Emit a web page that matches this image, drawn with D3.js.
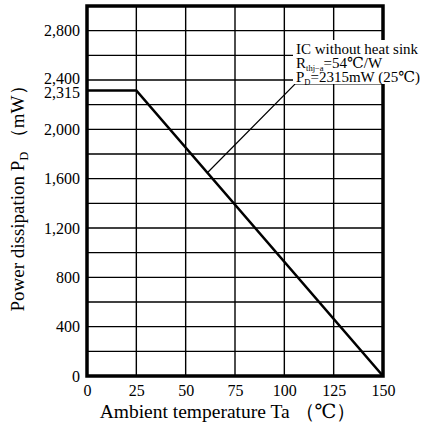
<!DOCTYPE html>
<html>
<head>
<meta charset="utf-8">
<script src="https://cdn.jsdelivr.net/npm/d3@7"></script>
<style>
  body { margin: 0; background: #fff; }
  text { font-family: "Liberation Serif", "DejaVu Serif", serif; fill: #000; }
</style>
</head>
<body>
<div id="chart"></div>
<script>
var svgWidth = 434;
var svgHeight = 430;

// derating curve
var temps = [0, 25, 150];
var power = [2315, 2315, 0];

var xTicks = [0, 25, 50, 75, 100, 125, 150];
var yTicks = [0, 400, 800, 1200, 1600, 2000, 2400, 2800];
var yExtraTick = 2315;
var yGrid = d3.range(200, 3000, 200);
var xGrid = [25, 50, 75, 100, 125];

var margin = { left: 87, top: 6, right: 51, bottom: 54 };
var width = svgWidth - margin.left - margin.right;
var height = svgHeight - margin.top - margin.bottom;

var svg = d3.select('#chart').append('svg')
    .attr('width', svgWidth)
    .attr('height', svgHeight);

var chartArea = svg.append('g')
    .attr('transform', `translate(${margin.left},${margin.top})`);

var xScale = d3.scaleLinear().domain([0, 150]).range([0, width]);
var yScale = d3.scaleLinear().domain([0, 3000]).range([height, 0]);

// grid
chartArea.selectAll('.hgrid').data(yGrid).enter().append('line')
    .attr('x1', 0).attr('x2', width)
    .attr('y1', d => yScale(d)).attr('y2', d => yScale(d))
    .attr('stroke', '#000').attr('stroke-width', 1.4);

chartArea.selectAll('.vgrid').data(xGrid).enter().append('line')
    .attr('x1', d => xScale(d)).attr('x2', d => xScale(d))
    .attr('y1', 0).attr('y2', height)
    .attr('stroke', '#000').attr('stroke-width', 1.4);

// frame
chartArea.append('rect')
    .attr('width', width).attr('height', height)
    .attr('fill', 'none').attr('stroke', '#000').attr('stroke-width', 3.5);

// axes (labels only)
var xAxis = chartArea.append('g')
    .attr('transform', `translate(0,${height})`)
    .call(d3.axisBottom(xScale).tickValues(xTicks).tickSize(0).tickPadding(9));

var yAxis = chartArea.append('g')
    .call(d3.axisLeft(yScale).tickValues(yTicks.concat([yExtraTick]))
        .tickSize(0).tickPadding(7).tickFormat(d3.format(',')));

[xAxis, yAxis].forEach(a => {
    a.select('.domain').remove();
    a.selectAll('text').attr('font-size', 16).attr('font-family', '"Liberation Serif", serif');
});
yAxis.selectAll('.tick text').filter(d => d === 2400).attr('dy', '0.2em');
yAxis.selectAll('.tick text').filter(d => d === 2315).attr('dy', '0.45em');

// curve
var line = d3.line().x((d, i) => xScale(temps[i])).y(d => yScale(d));
chartArea.append('path')
    .datum(power)
    .attr('d', line)
    .attr('fill', 'none')
    .attr('stroke', '#000')
    .attr('stroke-width', 2.6);

// annotation box covers the grid
svg.append('rect')
    .attr('x', 293).attr('y', 40)
    .attr('width', svgWidth - 293).attr('height', 44)
    .attr('fill', '#fff');

// leader line from the curve to the note
var leadT = 61;
var px = xScale(leadT), py = yScale(2315 * (150 - leadT) / 125);
var noteY = 84 - margin.top;
chartArea.append('polyline')
    .attr('points', [[px, py], [208, noteY], [xScale(150), noteY]].map(p => p.join(',')).join(' '))
    .attr('fill', 'none').attr('stroke', '#000').attr('stroke-width', 1.2);

var note = svg.append('text').attr('font-size', 15);
note.append('tspan').attr('x', 296).attr('y', 54).text('IC without heat sink');
note.append('tspan').attr('x', 296).attr('y', 68).text('R');
note.append('tspan').attr('font-size', 8.5).attr('dy', 2.5).text('thj\u2212a');
note.append('tspan').attr('dy', -2.5).text('=54\u2103/W');
note.append('tspan').attr('x', 296).attr('y', 82).text('P');
note.append('tspan').attr('font-size', 8.5).attr('dy', 2.5).text('D');
note.append('tspan').attr('dy', -2.5).text('=2315mW (25\u2103)');

// axis titles
svg.append('text')
    .attr('x', 228).attr('y', 418)
    .attr('text-anchor', 'middle')
    .attr('font-size', 19.5)
    .text('Ambient temperature  Ta \uff08\u2103\uff09');

var yt = svg.append('text')
    .attr('transform', 'translate(24,194) rotate(-90)')
    .attr('text-anchor', 'middle')
    .attr('font-size', 19);
yt.append('tspan').text('Power dissipation  P');
yt.append('tspan').attr('font-size', 12).attr('dy', 4).text('D');
yt.append('tspan').attr('dy', -4).text(' \uff08mW\uff09');
</script>
</body>
</html>
